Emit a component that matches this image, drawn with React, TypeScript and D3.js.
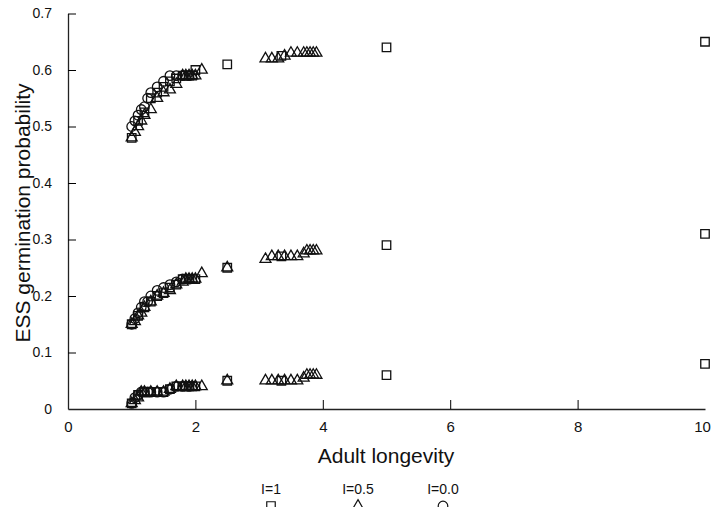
import * as d3 from "d3";
import { useRef, useEffect } from "react";

// adult longevity values (x) and ESS germination probability (y), three bands per series
const squareX = [1.0, 1.1, 1.2, 1.3, 1.4, 1.5, 1.6, 1.7, 1.8, 1.85, 1.9, 1.95, 2.0, 2.5, 3.35, 5, 10];
const squareUpper = [0.48, 0.51, 0.525, 0.55, 0.56, 0.57, 0.58, 0.585, 0.59, 0.59, 0.59, 0.59, 0.6, 0.61, 0.625, 0.64, 0.65];
const squareMiddle = [0.15, 0.165, 0.18, 0.19, 0.2, 0.205, 0.215, 0.22, 0.23, 0.23, 0.23, 0.23, 0.23, 0.25, 0.27, 0.29, 0.31];
const squareLower = [0.01, 0.025, 0.03, 0.03, 0.03, 0.03, 0.035, 0.04, 0.04, 0.04, 0.04, 0.04, 0.04, 0.05, 0.05, 0.06, 0.08];

const triangleX = [1.0, 1.05, 1.1, 1.15, 1.2, 1.3, 1.4, 1.5, 1.6, 1.7, 1.8, 1.85, 1.9, 1.95, 2.0, 2.1, 2.5, 3.1, 3.2, 3.3, 3.4, 3.5, 3.6, 3.7, 3.75, 3.8, 3.85, 3.9];
const triangleUpper = [0.48, 0.49, 0.5, 0.51, 0.52, 0.53, 0.55, 0.56, 0.565, 0.575, 0.59, 0.59, 0.59, 0.59, 0.59, 0.6, null, 0.62, 0.62, 0.62, 0.625, 0.63, 0.63, 0.63, 0.63, 0.63, 0.63, 0.63];
const triangleMiddle = [0.15, 0.155, 0.165, 0.17, 0.18, 0.19, 0.2, 0.205, 0.21, 0.22, 0.225, 0.23, 0.23, 0.23, 0.23, 0.24, 0.25, 0.265, 0.27, 0.27, 0.27, 0.27, 0.27, 0.275, 0.28, 0.28, 0.28, 0.28];
const triangleLower = [0.01, 0.015, 0.02, 0.03, 0.03, 0.03, 0.03, 0.03, 0.035, 0.04, 0.04, 0.04, 0.04, 0.04, 0.04, 0.04, 0.05, 0.05, 0.05, 0.05, 0.05, 0.05, 0.05, 0.055, 0.06, 0.06, 0.06, 0.06];

const circleX = [1.0, 1.05, 1.1, 1.15, 1.2, 1.25, 1.3, 1.4, 1.5, 1.6, 1.7, 1.8, 1.9];
const circleUpper = [0.5, 0.51, 0.52, 0.53, 0.535, 0.55, 0.56, 0.57, 0.58, 0.59, 0.59, 0.59, 0.59];
const circleMiddle = [0.15, 0.16, 0.17, 0.18, 0.19, 0.19, 0.2, 0.21, 0.215, 0.22, 0.225, 0.23, 0.23];
const circleLower = [0.01, 0.02, 0.025, 0.03, 0.03, 0.03, 0.03, 0.03, 0.03, 0.035, 0.04, 0.04, 0.04];

const xTicks = [0, 2, 4, 6, 8, 10];
const yTicks = [0, 0.1, 0.2, 0.3, 0.4, 0.5, 0.6, 0.7];
const legendLabels = ["I=1", "I=0.5", "I=0.0"];

const font = "'Liberation Sans', Arial, sans-serif";

const App = () => {
    const chartRef = useRef(null);

    const width = 712;
    const height = 507;
    const margin = { top: 13.5, bottom: 98, left: 68, right: 7 };

    useEffect(() => {
        const svg = d3.select(chartRef.current);
        svg.selectAll('*').remove();

        const scaleX = d3.scaleLinear().domain([0, 10]).range([margin.left, width - margin.right]);
        const scaleY = d3.scaleLinear().domain([0, 0.7]).range([height - margin.bottom, margin.top]);

        const symbols = {
            square: d3.symbol().type(d3.symbolSquare).size(72),
            triangle: d3.symbol().type(d3.symbolTriangle).size(52),
            circle: d3.symbol().type(d3.symbolCircle).size(72),
        };

        // axes with inward ticks
        const xAxis = d3.axisBottom(scaleX).tickValues(xTicks).tickSize(-9).tickSizeOuter(0).tickPadding(12);
        const gx = svg.append('g')
           .attr('transform', `translate(0, ${scaleY(0)})`)
           .call(xAxis);
        gx.selectAll('.tick line').filter(d => d === 0 || d === 10).remove();
        gx.selectAll('text')
          .style('font-family', font).style('font-size', '15px').attr('fill', '#111')
          .attr('dx', d => d === 10 ? -3 : 0);

        const yAxis = d3.axisLeft(scaleY).tickValues(yTicks).tickSize(-8).tickSizeOuter(0).tickPadding(16)
            .tickFormat(d => d === 0 ? '0' : d3.format('.1f')(d));
        const gy = svg.append('g')
           .attr('transform', `translate(${scaleX(0)}, 0)`)
           .call(yAxis);
        gy.selectAll('.tick line').filter(d => d === 0).remove();
        gy.selectAll('text').style('font-family', font).style('font-size', '14px').attr('fill', '#111');

        svg.selectAll('.domain').attr('stroke', '#222').attr('stroke-width', 1.3);

        const series = [
            { shape: 'square', xs: squareX, bands: [squareUpper, squareMiddle, squareLower] },
            { shape: 'triangle', xs: triangleX, bands: [triangleUpper, triangleMiddle, triangleLower] },
            { shape: 'circle', xs: circleX, bands: [circleUpper, circleMiddle, circleLower] },
        ];

        series.forEach(s => {
            s.bands.forEach(band => {
                const pts = s.xs.map((x, i) => ({ x, y: band[i] })).filter(p => p.y !== null);
                svg.selectAll(null)
                   .data(pts)
                   .enter()
                   .append('path')
                   .attr('d', symbols[s.shape])
                   .attr('transform', d => `translate(${scaleX(d.x)}, ${scaleY(d.y)})`)
                   .attr('fill', 'none')
                   .attr('stroke', '#111')
                   .attr('stroke-width', 1.3);
            });
        });

        // axis titles
        svg.append('text')
           .attr('x', 386)
           .attr('y', 463)
           .attr('text-anchor', 'middle')
           .style('font-family', font)
           .style('font-size', '21px')
           .attr('fill', '#111')
           .text('Adult longevity');

        svg.append('text')
           .attr('transform', `translate(30, 213) rotate(-90)`)
           .attr('text-anchor', 'middle')
           .style('font-family', font)
           .style('font-size', '21px')
           .attr('fill', '#111')
           .text('ESS germination probability');

        // legend
        const legendX = [271, 358, 443];
        const shapes = ['square', 'triangle', 'circle'];
        legendLabels.forEach((label, i) => {
            svg.append('text')
               .attr('x', legendX[i])
               .attr('y', 494)
               .attr('text-anchor', 'middle')
               .style('font-family', font)
               .style('font-size', '14px')
               .attr('fill', '#111')
               .text(label);
            svg.append('path')
               .attr('d', symbols[shapes[i]])
               .attr('transform', `translate(${legendX[i]}, 506)`)
               .attr('fill', 'none')
               .attr('stroke', '#111')
               .attr('stroke-width', 1.2);
        });
    }, []);

    return (
        <svg ref={chartRef} width={width} height={height}
             style={{ position: 'absolute', left: 0, top: 0, background: '#fff' }}></svg>
    );
}

export default App;
